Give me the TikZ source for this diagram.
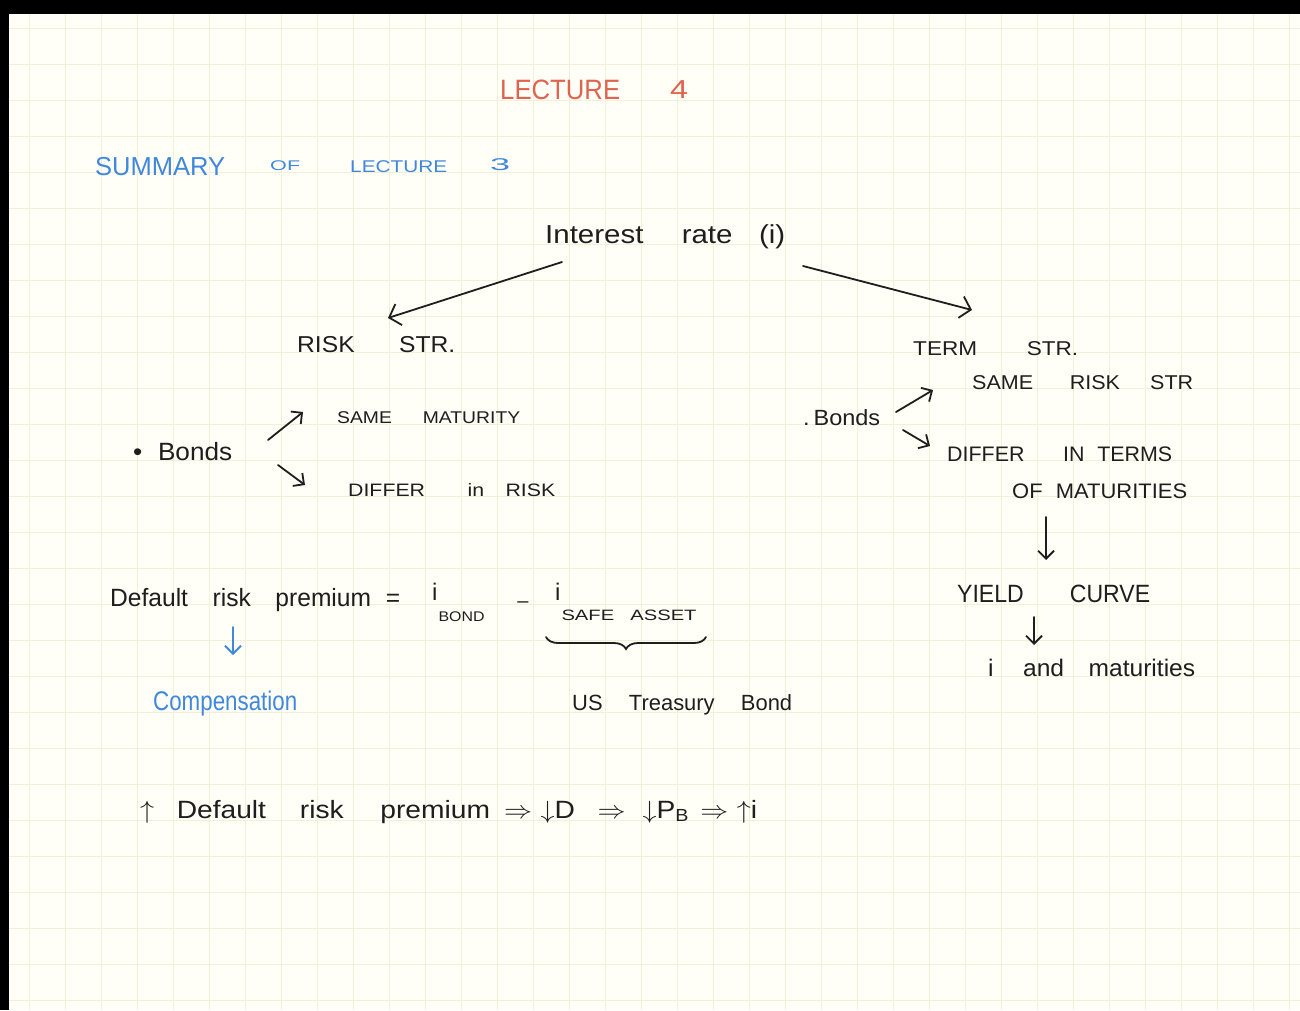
\documentclass[tikz,border=0pt]{standalone}
\usepackage{fontspec}
\setmainfont{Liberation Sans}
\usetikzlibrary{arrows.meta,decorations.pathreplacing}
\newcommand\hw[2]{\resizebox{#1pt}{\height}{#2}}
\newcommand\fsz[1]{\fontsize{#1}{#1}\selectfont}
\definecolor{ink}{HTML}{1E1E1E}
\definecolor{redink}{HTML}{E0634E}
\definecolor{blueink}{HTML}{3F88DC}
\definecolor{paper}{HTML}{FFFEF7}
\definecolor{gridc}{HTML}{F3EFD9}
\begin{document}
\begin{tikzpicture}[x=1pt,y=-1pt,
  txt/.style={inner sep=0pt, anchor=base west, text=ink},
  redtxt/.style={txt, text=redink},
  bluetxt/.style={txt, text=blueink},
  arr/.style={draw=ink, line width=1.8pt, line cap=round, line join=round,
    -{Straight Barb[length=8pt,width=16pt,line width=1.8pt]}},
  bigarr/.style={arr, -{Straight Barb[length=10pt,width=22pt,line width=1.8pt]}},
  bluearr/.style={arr, draw=blueink},
  gridline/.style={draw=gridc, line width=0.8pt}
]
\useasboundingbox (0,0) rectangle (1300,1010);
% paper and grid
\fill[paper] (0,0) rectangle (1300,1010);
\foreach \x in {29,65,...,1290} \draw[gridline] (\x,14) -- (\x,1010);
\foreach \y in {28,64,...,1005} \draw[gridline] (9,\y) -- (1300,\y);
\fill[black] (0,0) rectangle (1300,14);
\fill[black] (0,0) rectangle (9,1010);

% titles
\node[redtxt] (lec) at (500,99) {\fsz{28}\hw{120}{LECTURE}};
\node[redtxt] (lecfour) at (670,98) {\fsz{26}\hw{18}{4}};
\node[bluetxt] (sum) at (95,175) {\fsz{26}\hw{130}{SUMMARY}};
\node[bluetxt] (of) at (270,170) {\fsz{14}\hw{30}{OF}};
\node[bluetxt] (lecthree) at (350,172) {\fsz{17}\hw{97}{LECTURE}};
\node[bluetxt] (three) at (490,170) {\fsz{17}\hw{20}{3}};

% top of tree
\node[txt] (int) at (545,243) {\fsz{26}\hw{240}{Interest\hspace{1.3em}rate\hspace{0.9em}(i)}};
\node[txt] (risk) at (297,352) {\fsz{23}\hw{158}{RISK\hspace{1.8em}STR.}};
\node[txt] (term) at (913,355) {\fsz{20}\hw{165}{TERM\hspace{2.2em}STR.}};

% left branch
\node[txt] (bondsL) at (133,460) {\fsz{25}\hw{99}{\textbullet\hspace{0.6em}Bonds}};
\node[txt] (sameM) at (337,423) {\fsz{17}\hw{183}{SAME\hspace{1.6em}MATURITY}};
\node[txt] (differR) at (348,496) {\fsz{18}\hw{207}{DIFFER\hspace{2em}in\hspace{1em}RISK}};

% right branch
\node[txt] (samerisk) at (972,389) {\fsz{20}\hw{221}{SAME\hspace{1.7em}RISK\hspace{1.4em}STR}};
\node[txt] (bondsR) at (803,425) {\fsz{22}\hw{77}{.\,Bonds}};
\node[txt] (differT) at (947,461) {\fsz{21}\hw{225}{DIFFER\hspace{1.8em}IN\hspace{0.6em}TERMS}};
\node[txt] (ofmat) at (1012,498) {\fsz{21}\hw{175}{OF\hspace{0.6em}MATURITIES}};
\node[txt] (yield) at (957,602) {\fsz{25}\hw{193}{YIELD\hspace{2em}CURVE}};
\node[txt] (iand) at (988,676) {\fsz{24}\hw{207}{i\hspace{1.2em}and\hspace{1em}maturities}};

% default risk premium
\node[txt] (drp) at (110,606) {\fsz{25}\hw{290}{Default\hspace{1em}risk\hspace{1em}premium\hspace{0.6em}=}};
\node[txt] (ibond) at (432,600) {\fsz{24}i\hspace{1pt}\raisebox{-21pt}{\fsz{14}\hw{46}{BOND}}};
\node[txt, anchor=center] (minus) at (523,605) {\fsz{20}–};
\node[txt] (isafe) at (555,600) {\fsz{24}i\hspace{1pt}\raisebox{-20pt}{\fsz{15}\hw{135}{SAFE\hspace{0.8em}ASSET}}};
\coordinate (brA) at (546,637);
\coordinate (brB) at (706,637);
\draw[ink, line width=1.8pt, line cap=round, decorate,
  decoration={brace, mirror, amplitude=12pt}] (brA) -- (brB);
\node[txt] (us) at (572,710) {\fsz{22}\hw{220}{US\hspace{1.2em}Treasury\hspace{1.2em}Bond}};
\node[bluetxt] (comp) at (153,710) {\fsz{27}\hw{144}{Compensation}};

% bottom line
\node[txt] (chain) at (140,818) {\fsz{25}\hw{617}{$\uparrow$\hspace{0.8em}Default\hspace{1.2em}risk\hspace{1.3em}premium\hspace{0.5em}$\Rightarrow$\hspace{0.3em}$\downarrow$D\hspace{0.8em}$\Rightarrow$\hspace{0.6em}$\downarrow$P\textsubscript{B}\hspace{0.4em}$\Rightarrow$\hspace{0.3em}$\uparrow$i}};

% connectors
\coordinate (c1a) at (562,262); \coordinate (c1b) at (388,318);
\coordinate (c2a) at (803,266); \coordinate (c2b) at (972,310);
\coordinate (c3a) at (268,440); \coordinate (c3b) at (303,412);
\coordinate (c4a) at (278,465); \coordinate (c4b) at (305,485);
\coordinate (c5a) at (896,412); \coordinate (c5b) at (933,390);
\coordinate (c6a) at (903,430); \coordinate (c6b) at (930,446);
\coordinate (c7a) at (1046,517); \coordinate (c7b) at (1046,560);
\coordinate (c8a) at (1034,617); \coordinate (c8b) at (1034,645);
\coordinate (c9a) at (233,627); \coordinate (c9b) at (233,655);
\draw[bigarr] (c1a) -- (c1b);
\draw[bigarr] (c2a) -- (c2b);
\draw[arr] (c3a) -- (c3b);
\draw[arr] (c4a) -- (c4b);
\draw[arr] (c5a) -- (c5b);
\draw[arr] (c6a) -- (c6b);
\draw[arr] (c7a) -- (c7b);
\draw[arr] (c8a) -- (c8b);
\draw[bluearr] (c9a) -- (c9b);
\end{tikzpicture}
\end{document}
